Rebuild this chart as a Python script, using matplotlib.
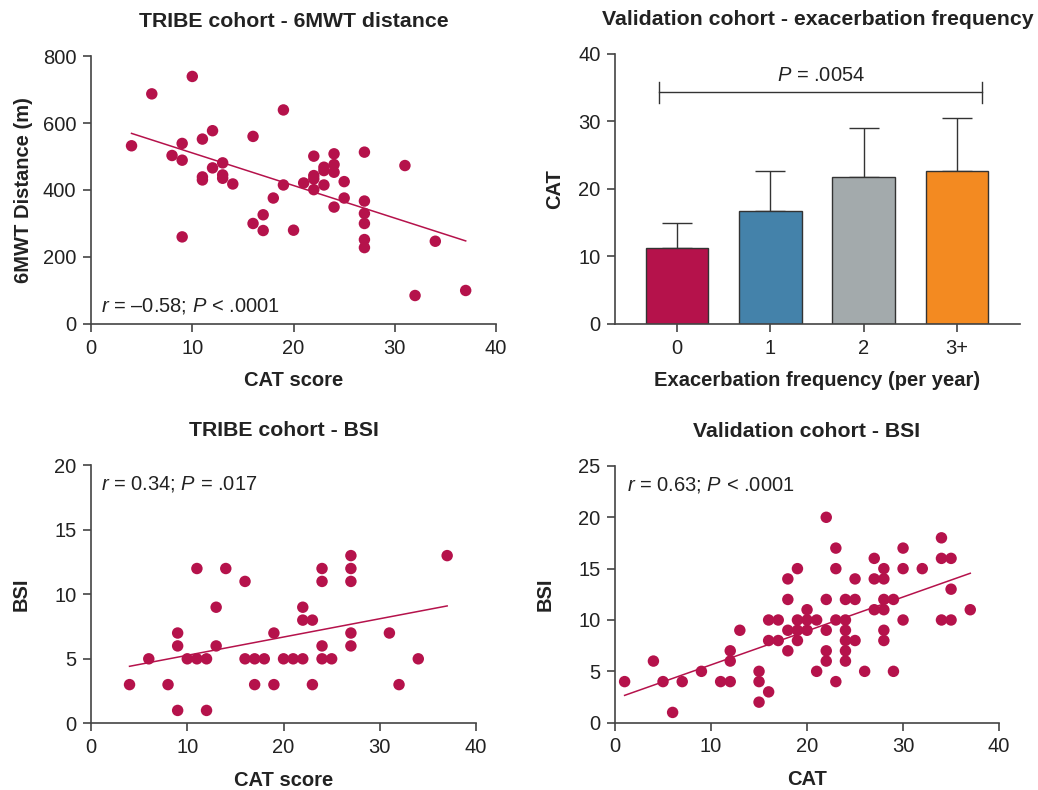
import numpy as np
import matplotlib
matplotlib.use("Agg")
import matplotlib.pyplot as plt

plt.rcParams['font.family'] = ['Liberation Sans', 'DejaVu Sans']
plt.rcParams['mathtext.fontset'] = 'custom'
plt.rcParams['mathtext.it'] = 'Liberation Sans:italic'
plt.rcParams['mathtext.rm'] = 'Liberation Sans'

DOT = '#b5124b'
AX = '#444444'
TXT = '#222222'

# TRIBE cohort - 6MWT distance
mwt_cat = [4, 6, 10, 19, 9, 8, 9, 11, 12, 16, 13, 12, 11, 11, 13, 13, 14, 9, 16, 17, 17,
           18, 19, 20, 21, 22, 22, 22, 22, 23, 23, 23, 24, 24, 24, 24, 25, 25,
           27, 27, 27, 27, 27, 27, 31, 34, 32, 37]
mwt_dist = [532, 687, 739, 639, 539, 503, 489, 552, 577, 560, 481, 466, 439, 430, 445, 435, 418, 260, 300, 326, 279,
            376, 415, 280, 421, 501, 443, 433, 401, 468, 458, 415, 508, 476, 453, 349, 425, 376,
            513, 367, 330, 300, 252, 228, 473, 247, 85, 100]
mwt_fit_x = [4, 37]
mwt_fit_y = [569, 248]

# Validation cohort - exacerbation frequency
exac_labels = ['0', '1', '2', '3+']
exac_cat = [11.2, 16.7, 21.7, 22.6]
exac_sd = [3.8, 6.0, 7.4, 7.9]
exac_colors = ['#b5124b', '#4482aa', '#a3aaac', '#f38a21']

# TRIBE cohort - BSI
tbsi_cat = [4, 6, 8, 9, 9, 9, 10, 11, 11, 12, 12, 13, 13, 14, 16, 16, 17, 17, 18, 19, 19,
            20, 21, 22, 22, 22, 23, 23, 24, 24, 24, 24, 25, 27, 27, 27, 27, 27, 31, 32, 34, 37]
tbsi_val = [3, 5, 3, 7, 6, 1, 5, 12, 5, 5, 1, 9, 6, 12, 11, 5, 5, 3, 5, 7, 3,
            5, 5, 5, 9, 8, 8, 3, 12, 11, 6, 5, 5, 13, 12, 11, 7, 6, 7, 3, 5, 13]
tbsi_fit_x = [4, 37]
tbsi_fit_y = [4.42, 9.1]

# Validation cohort - BSI
vbsi_cat = [1, 4, 5, 6, 7, 9, 11, 12, 12, 12, 13, 15, 15, 15, 16, 16, 16, 17, 17,
            18, 18, 18, 18, 19, 19, 19, 19, 20, 20, 20, 21, 21,
            22, 22, 22, 22, 22, 23, 23, 23, 23, 24, 24, 24, 24, 24, 24,
            25, 25, 25, 26, 27, 27, 27, 28, 28, 28, 28, 28, 28, 29, 29,
            30, 30, 30, 32, 34, 34, 34, 35, 35, 35, 37]
vbsi_val = [4, 6, 4, 1, 4, 5, 4, 4, 6, 7, 9, 5, 4, 2, 3, 8, 10, 8, 10,
            7, 9, 12, 14, 15, 10, 9, 8, 11, 10, 9, 10, 5,
            20, 12, 9, 7, 6, 17, 15, 10, 4, 12, 10, 9, 8, 7, 6,
            14, 12, 8, 5, 16, 14, 11, 15, 14, 12, 11, 9, 8, 12, 5,
            17, 15, 10, 15, 18, 16, 10, 16, 13, 10, 11]
vbsi_fit_x = [1, 37]
vbsi_fit_y = [2.66, 14.55]

fig = plt.figure(figsize=(10.38, 7.9), dpi=100)
ax1 = fig.add_axes([0.0877, 0.5899, 0.3902, 0.3392])
ax2 = fig.add_axes([0.5925, 0.5899, 0.3902, 0.3418])
ax3 = fig.add_axes([0.0877, 0.0844, 0.3709, 0.3266])
ax4 = fig.add_axes([0.5925, 0.0852, 0.3700, 0.3250])

FS = 14.5


def style(ax):
    for s in ['top', 'right']:
        ax.spines[s].set_visible(False)
    for s in ['left', 'bottom']:
        ax.spines[s].set_color(AX)
        ax.spines[s].set_linewidth(1.2)
    ax.tick_params(direction='out', length=5.5, width=1.2, color=AX,
                   labelsize=FS, labelcolor=TXT, pad=5)


def scatter_panel(ax, x, y, fx, fy):
    ax.scatter(x, y, s=68, color=DOT, edgecolors='none', zorder=3, clip_on=False)
    ax.plot(fx, fy, color=DOT, lw=1.1, zorder=2)


tfont = dict(fontsize=15.3, fontweight='bold', color=TXT)
lfont = dict(fontsize=FS, fontweight='bold', color=TXT)

# panel 1
style(ax1)
scatter_panel(ax1, mwt_cat, mwt_dist, mwt_fit_x, mwt_fit_y)
ax1.set_xlim(0, 40)
ax1.set_ylim(0, 800)
ax1.set_xticks([0, 10, 20, 30, 40])
ax1.set_yticks([0, 200, 400, 600, 800])
ax1.set_xlabel('CAT score', labelpad=10, **lfont)
ax1.set_ylabel('6MWT Distance (m)', labelpad=7, **lfont)
ax1.set_title('TRIBE cohort - 6MWT distance', pad=21, **tfont)
ax1.text(0.025, 0.045, '$r$ = \u20130.58; $P$ < .0001', transform=ax1.transAxes,
         fontsize=FS, color=TXT)

# panel 2
style(ax2)
xpos = np.arange(len(exac_labels))
ax2.bar(xpos, exac_cat, width=0.67, color=exac_colors, edgecolor='#333333',
        linewidth=1.0, zorder=2)
ax2.errorbar(xpos, exac_cat, yerr=[np.zeros(len(exac_sd)), exac_sd], fmt='none',
             ecolor='#333333', elinewidth=1.0, capsize=10.8, capthick=1.0, zorder=1)
ax2.set_xlim(-0.664, 3.675)
ax2.set_ylim(0, 40)
ax2.set_xticks(xpos)
ax2.set_xticklabels(exac_labels)
ax2.set_yticks([0, 10, 20, 30, 40])
ax2.set_xlabel('Exacerbation frequency (per year)', labelpad=10, **lfont)
ax2.set_ylabel('CAT', labelpad=10, **lfont)
ax2.set_title('Validation cohort - exacerbation frequency', pad=21, **tfont)
ax2.plot([-0.196, 3.27], [34.3, 34.3], color='#333333', lw=1.0)
ax2.plot([-0.196, -0.196], [32.8, 35.8], color='#333333', lw=1.0)
ax2.plot([3.27, 3.27], [32.8, 35.8], color='#333333', lw=1.0)
ax2.text(1.54, 35.4, '$P$ = .0054', ha='center', va='bottom', fontsize=FS, color=TXT)

# panel 3
style(ax3)
scatter_panel(ax3, tbsi_cat, tbsi_val, tbsi_fit_x, tbsi_fit_y)
ax3.set_xlim(0, 40)
ax3.set_ylim(0, 20)
ax3.set_xticks([0, 10, 20, 30, 40])
ax3.set_yticks([0, 5, 10, 15, 20])
ax3.set_xlabel('CAT score', labelpad=10, **lfont)
ax3.set_ylabel('BSI', labelpad=17, **lfont)
ax3.set_title('TRIBE cohort - BSI', pad=21, **tfont)
ax3.text(0.025, 0.965, '$r$ = 0.34; $P$ = .017', transform=ax3.transAxes,
         fontsize=FS, color=TXT, va='top')

# panel 4
style(ax4)
scatter_panel(ax4, vbsi_cat, vbsi_val, vbsi_fit_x, vbsi_fit_y)
ax4.set_xlim(0, 40)
ax4.set_ylim(0, 25)
ax4.set_xticks([0, 10, 20, 30, 40])
ax4.set_yticks([0, 5, 10, 15, 20, 25])
ax4.set_xlabel('CAT', labelpad=10, **lfont)
ax4.set_ylabel('BSI', labelpad=17, **lfont)
ax4.set_title('Validation cohort - BSI', pad=21, **tfont)
ax4.text(0.03, 0.965, '$r$ = 0.63; $P$ < .0001', transform=ax4.transAxes,
         fontsize=FS, color=TXT, va='top')

fig.savefig('out.png', dpi=100)
